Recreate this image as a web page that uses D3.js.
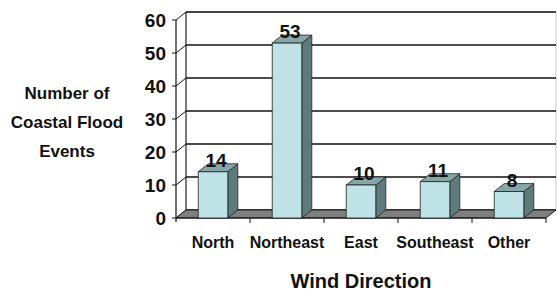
<html>
<head>
<script src="https://cdn.jsdelivr.net/npm/d3@7/dist/d3.min.js"></script>
</head>
<body style="margin:0; background:white">
<style>
text { font-family: "Liberation Sans", Arial, sans-serif; font-weight: bold; fill: #111; }
</style>
<svg id="chart" width="557" height="299"></svg>
<script>

// data
var categories = [ "North", "Northeast", "East", "Southeast", "Other" ];
var values = [ 14, 53, 10, 11, 8 ];
var yTicks = [ 0, 10, 20, 30, 40, 50, 60 ];
var yTitle = [ "Number of", "Coastal Flood", "Events" ];
var xTitle = "Wind Direction";

var svg = d3.select( "#chart" );

// 3d offset of the back wall
var dx = 10, dy = -8;

var x = d3.scaleBand().domain( categories ).range( [ 176, 546 ] )
    .paddingInner( 0.6 ).paddingOuter( 0.3 );
var y = d3.scaleLinear().domain( [ 0, 60 ] ).range( [ 218, 20 ] );

var x0 = 176, x1 = 546;

// back wall
svg.append( "rect" )
    .attr( "x", x0 + dx ).attr( "y", y( 60 ) + dy )
    .attr( "width", x1 - x0 ).attr( "height", y( 0 ) - y( 60 ) )
    .style( "fill", "white" ).style( "stroke", "#bbb" ).style( "stroke-width", 0.8 );

// gridlines on the back wall + diagonals on the side
svg.selectAll( ".grid" ).data( yTicks ).enter().append( "line" )
    .attr( "x1", x0 + dx ).attr( "x2", x1 + dx )
    .attr( "y1", d => y( d ) + dy ).attr( "y2", d => y( d ) + dy )
    .style( "stroke", "#111" ).style( "stroke-width", 1.6 );
svg.selectAll( ".diag" ).data( yTicks ).enter().append( "line" )
    .attr( "x1", x0 ).attr( "x2", x0 + dx )
    .attr( "y1", d => y( d ) ).attr( "y2", d => y( d ) + dy )
    .style( "stroke", "#111" ).style( "stroke-width", 1 );
svg.append( "line" )
    .attr( "x1", x0 + dx ).attr( "x2", x0 + dx )
    .attr( "y1", y( 60 ) + dy ).attr( "y2", y( 0 ) + dy )
    .style( "stroke", "#111" ).style( "stroke-width", 1 );

// floor
svg.append( "polygon" )
    .attr( "points", [ [ x0, y( 0 ) ], [ x0 + dx, y( 0 ) + dy ], [ x1 + dx, y( 0 ) + dy ], [ x1, y( 0 ) ] ].join( " " ) )
    .style( "fill", "#7f7f7f" ).style( "stroke", "#222" ).style( "stroke-width", 1 );

// front value axis
svg.append( "line" )
    .attr( "x1", x0 ).attr( "x2", x0 ).attr( "y1", y( 60 ) ).attr( "y2", y( 0 ) + 4 )
    .style( "stroke", "#111" ).style( "stroke-width", 1.2 );
svg.selectAll( ".ytick" ).data( yTicks ).enter().append( "line" )
    .attr( "x1", x0 - 4 ).attr( "x2", x0 )
    .attr( "y1", d => y( d ) ).attr( "y2", d => y( d ) )
    .style( "stroke", "#111" ).style( "stroke-width", 1 );
svg.selectAll( ".ylab" ).data( yTicks ).enter().append( "text" )
    .attr( "x", 166 ).attr( "y", d => y( d ) + 7 )
    .attr( "text-anchor", "end" ).style( "font-size", "19px" )
    .text( d => d );

// front category axis
svg.append( "line" )
    .attr( "x1", x0 ).attr( "x2", x1 ).attr( "y1", y( 0 ) ).attr( "y2", y( 0 ) )
    .style( "stroke", "#111" ).style( "stroke-width", 1.2 );
var bounds = categories.map( ( c, i ) => x0 + x.step() * ( i + 1 ) );
svg.selectAll( ".xtick" ).data( bounds ).enter().append( "line" )
    .attr( "x1", d => d ).attr( "x2", d => d )
    .attr( "y1", y( 0 ) ).attr( "y2", y( 0 ) + 5 )
    .style( "stroke", "#111" ).style( "stroke-width", 1 );

// bars
var bar = svg.selectAll( ".bar" ).data( categories ).enter().append( "g" );
var bw = x.bandwidth();
bar.append( "polygon" ) // side
    .attr( "points", ( d, i ) => {
        var r = x( d ) + bw, t = y( values[ i ] ), b = y( 0 );
        return [ [ r, b ], [ r, t ], [ r + dx, t + dy ], [ r + dx, b + dy ] ].join( " " );
    } )
    .style( "fill", "#5f7a7c" ).style( "stroke", "#222" ).style( "stroke-width", 0.8 );
bar.append( "polygon" ) // top
    .attr( "points", ( d, i ) => {
        var l = x( d ), r = l + bw, t = y( values[ i ] );
        return [ [ l, t ], [ l + dx, t + dy ], [ r + dx, t + dy ], [ r, t ] ].join( " " );
    } )
    .style( "fill", "#86a6a8" ).style( "stroke", "#222" ).style( "stroke-width", 0.8 );
bar.append( "rect" ) // front
    .attr( "x", d => x( d ) ).attr( "width", bw )
    .attr( "y", ( d, i ) => y( values[ i ] ) )
    .attr( "height", ( d, i ) => y( 0 ) - y( values[ i ] ) )
    .style( "fill", "#bfe2e6" ).style( "stroke", "#222" ).style( "stroke-width", 0.8 );
bar.append( "text" )
    .attr( "x", d => x( d ) + bw / 2 + 3 )
    .attr( "y", ( d, i ) => y( values[ i ] ) - 5 )
    .attr( "text-anchor", "middle" ).style( "font-size", "19px" )
    .text( ( d, i ) => values[ i ] );

// category labels
svg.selectAll( ".xlab" ).data( categories ).enter().append( "text" )
    .attr( "x", d => x( d ) + bw / 2 ).attr( "y", 248 )
    .attr( "text-anchor", "middle" ).style( "font-size", "16px" )
    .text( d => d );

// titles
svg.append( "text" ).attr( "x", ( x0 + x1 ) / 2 ).attr( "y", 288 )
    .attr( "text-anchor", "middle" ).style( "font-size", "20px" )
    .text( xTitle );
svg.selectAll( ".ytitle" ).data( yTitle ).enter().append( "text" )
    .attr( "x", 67 ).attr( "y", ( d, i ) => 99 + i * 29 )
    .attr( "text-anchor", "middle" ).style( "font-size", "17px" )
    .text( d => d );

</script>
</body>
</html>
